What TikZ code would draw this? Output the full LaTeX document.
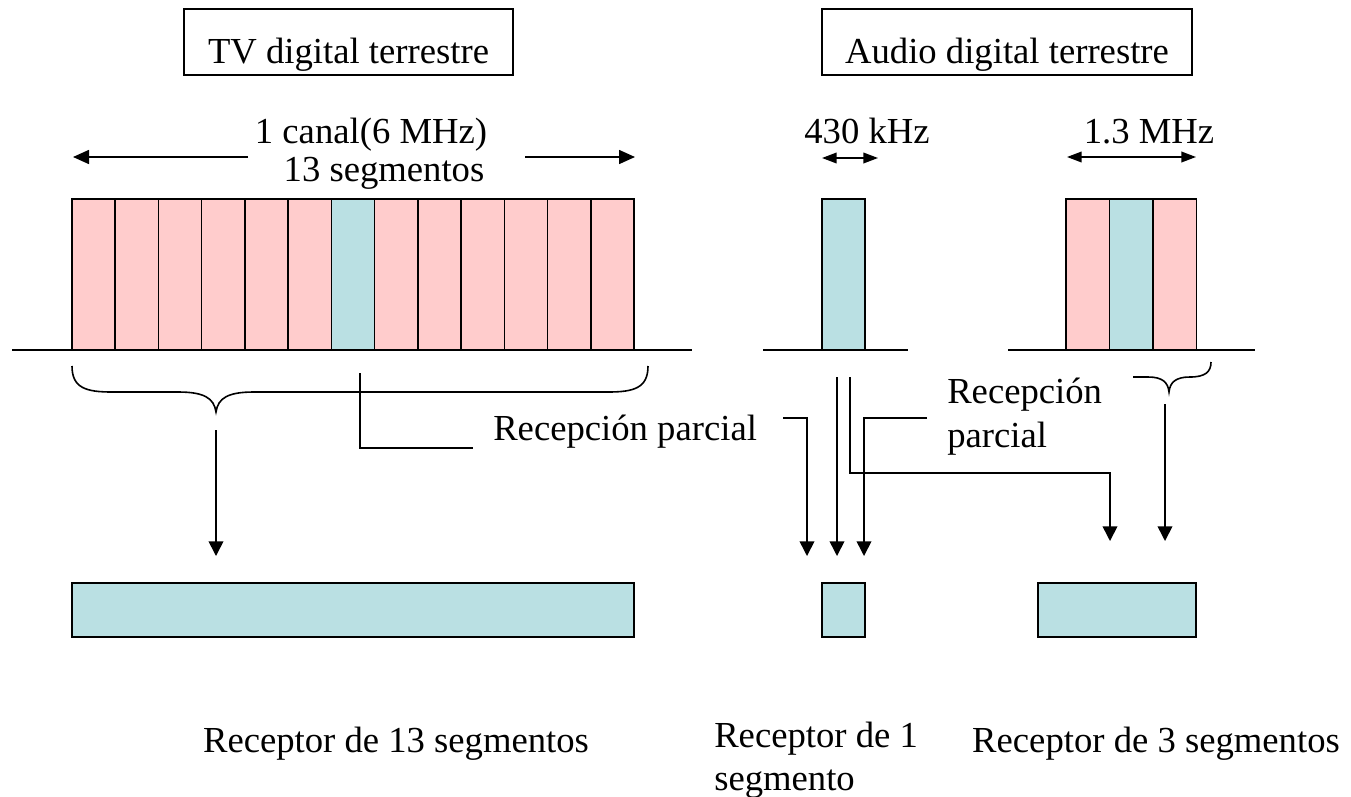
\documentclass[tikz,border=0pt]{standalone}
\usepackage{fontspec}
\setmainfont{Liberation Serif}
\usetikzlibrary{arrows.meta}
\definecolor{segpink}{RGB}{255,204,204}
\definecolor{segblue}{RGB}{186,224,227}
\tikzset{
  lbl/.style={font=\fontsize{27.5}{30}\selectfont, inner sep=0pt},
  titlebox/.style={draw, line width=1.2pt, font=\fontsize{27.5}{30}\selectfont,
    minimum height=49.5pt, inner sep=0pt, text height=32.25pt, text depth=0pt},
  seg/.style={draw, line width=1.2pt, inner sep=0pt, outer sep=0pt,
    minimum height=113.25pt, anchor=south west},
  rx/.style={draw, line width=1.2pt, fill=segblue, inner sep=0pt, outer sep=0pt,
    minimum height=40.5pt, anchor=north west},
  axis/.style={line width=1.3pt},
  conn/.style={line width=1.2pt},
  arr/.style={line width=1.2pt, -{Triangle[width=11pt,length=11pt]}},
  span/.style={line width=1.2pt, {Triangle[width=8pt,length=11pt]}-{Triangle[width=8pt,length=11pt]}},
  spanr/.style={line width=1.2pt, -{Triangle[width=10.5pt,length=12pt]}},
}
\begin{document}
\begin{tikzpicture}[x=0.75pt, y=-0.75pt]
\useasboundingbox (0,0) rectangle (1351,796);

% headings
\node[titlebox, minimum width=246.75pt] (tv) at (348.5,42) {TV digital terrestre};
\node[titlebox, minimum width=277.5pt] (audio) at (1007,42) {Audio digital terrestre};

% bandwidth labels
\node[lbl, anchor=base] (canal) at (371,143) {1 canal(6 MHz)};
\node[lbl, anchor=base] (nseg) at (384,181) {13 segmentos};
\node[lbl, anchor=base] (khz) at (867,143) {430 kHz};
\node[lbl, anchor=base] (mhz) at (1149,143) {1.3 MHz};

\coordinate (cl1) at (248,157);  \coordinate (cl2) at (73,157);
\coordinate (cr1) at (525,157);  \coordinate (cr2) at (635,157);
\draw[spanr] (cl1) -- (cl2);
\draw[spanr] (cr1) -- (cr2);
\coordinate (k1) at (822,158); \coordinate (k2) at (878,158);
\draw[span] (k1) -- (k2);
\coordinate (m1) at (1067,157); \coordinate (m2) at (1196,157);
\draw[span] (m1) -- (m2);

% 13-segment TV channel
\foreach \i in {0,...,12}{
  \pgfmathsetmacro{\xx}{72+\i*43.23}
  \ifnum\i=6 \def\fc{segblue}\else \def\fc{segpink}\fi
  \node[seg, fill=\fc, minimum width=32.42pt] (tvseg\i) at (\xx,350) {};
}
\draw[axis] (12,350) -- (692,350);

% 1-segment audio
\node[seg, fill=segblue, minimum width=32.25pt] (a1) at (822,350) {};
\draw[axis] (763,350) -- (908,350);

% 3-segment audio
\node[seg, fill=segpink, minimum width=32.6pt] (a3l) at (1066,350) {};
\node[seg, fill=segblue, minimum width=32.6pt] (a3c) at (1109.5,350) {};
\node[seg, fill=segpink, minimum width=32.6pt] (a3r) at (1153,350) {};
\draw[axis] (1008,350) -- (1255,350);

% braces
\draw[conn] (72,366) .. controls (72,388) and (86,392) .. (112,392)
  -- (178,392) .. controls (204,392) and (214,398) .. (216,412)
  .. controls (218,398) and (228,392) .. (254,392)
  -- (608,392) .. controls (634,392) and (648,388) .. (648,366);
\coordinate (tvtip) at (216,412);
\draw[conn] (1133,377) -- (1148,377) .. controls (1162,377) and (1168,382) .. (1169,392)
  .. controls (1170,382) and (1176,377) .. (1190,377)
  .. controls (1205,377) and (1211,372) .. (1211,362);

% receivers
\node[rx, minimum width=421.5pt] (rx13) at (72,583) {};
\node[rx, minimum width=32.25pt] (rx1) at (822,583) {};
\node[rx, minimum width=118.5pt] (rx3) at (1038,583) {};

% partial-reception labels
\node[lbl, anchor=base west] (rp1) at (493,440) {Recepción parcial};
\node[lbl, anchor=base west] (rp2a) at (947,403) {Recepción};
\node[lbl, anchor=base west] (rp2b) at (947,447) {parcial};

% full reception
\draw[arr] (216,430) -- (216,556);

% partial reception of TV centre segment
\draw[conn] (360,373) |- (473,448);
\draw[arr] (783,418) -| (807,556);

% audio single segment to receivers
\draw[arr] (837,377) -- (837,556);
\draw[arr] (850,377) |- (1110,473) -- (1110,541);
\draw[arr] (927,418) -| (864,556);

% 3-segment reception
\draw[arr] (1165,404) -- (1165,541);

% receiver captions
\node[lbl, anchor=base] (c13) at (396,752) {Receptor de 13 segmentos};
\node[lbl, anchor=base west] (c1a) at (714,747) {Receptor de 1};
\node[lbl, anchor=base west] (c1b) at (714,790) {segmento};
\node[lbl, anchor=base] (c3) at (1156,752) {Receptor de 3 segmentos};
\end{tikzpicture}
\end{document}
